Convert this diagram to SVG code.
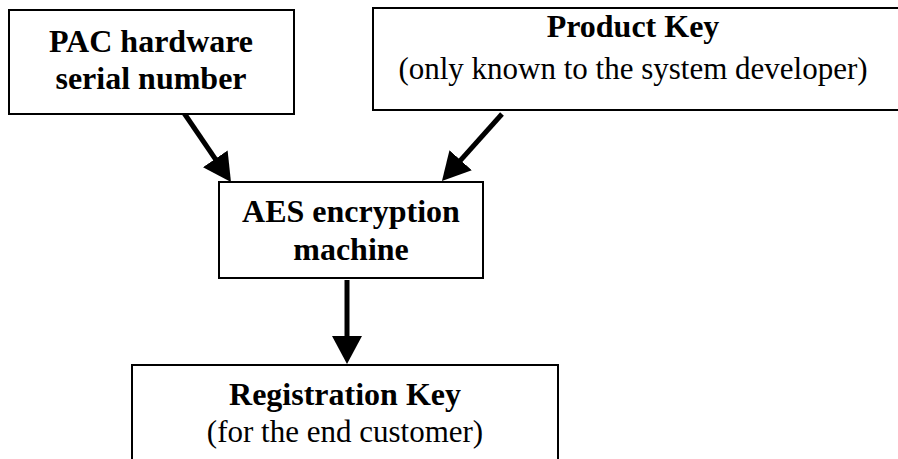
<svg xmlns="http://www.w3.org/2000/svg" width="898" height="459" viewBox="0 0 898 459">
<style>
.box{fill:#fff;stroke:#000;stroke-width:2}
.t{font-family:"Liberation Serif","Times New Roman",serif;font-size:31px;fill:#000;text-anchor:middle}
.b{font-weight:bold;font-size:32px}
.c{stroke:#000;stroke-width:5;fill:none}
</style>
<defs>
<marker id="ah" viewBox="0 0 28 30" refX="14" refY="15" markerWidth="28" markerHeight="30" markerUnits="userSpaceOnUse" orient="auto">
<path d="M0,0 L28,15 L0,30 Z" fill="#000"/>
</marker>
</defs>
<rect width="898" height="459" fill="#fff"/>
<g id="connectors">
<line class="c" x1="184" y1="113" x2="223.1" y2="170.4" marker-end="url(#ah)"/>
<line class="c" x1="502" y1="114" x2="451.3" y2="170.6" marker-end="url(#ah)"/>
<line class="c" x1="347" y1="280" x2="347" y2="350" marker-end="url(#ah)"/>
</g>
<g id="pac">
<rect class="box" x="9" y="10" width="285" height="104"/>
<text class="t b" x="151" y="52">PAC hardware</text>
<text class="t b" x="151" y="89">serial number</text>
</g>
<g id="product">
<rect class="box" x="373" y="8" width="540" height="102"/>
<text class="t b" x="633" y="37">Product Key</text>
<text class="t" x="633" y="79">(only known to the system developer)</text>
</g>
<g id="aes">
<rect class="box" x="219" y="182" width="264" height="96"/>
<text class="t b" x="351" y="222">AES encryption</text>
<text class="t b" x="351" y="260">machine</text>
</g>
<g id="registration">
<rect class="box" x="132" y="365" width="426" height="110"/>
<text class="t b" x="345" y="405">Registration Key</text>
<text class="t" x="345" y="442">(for the end customer)</text>
</g>
</svg>
